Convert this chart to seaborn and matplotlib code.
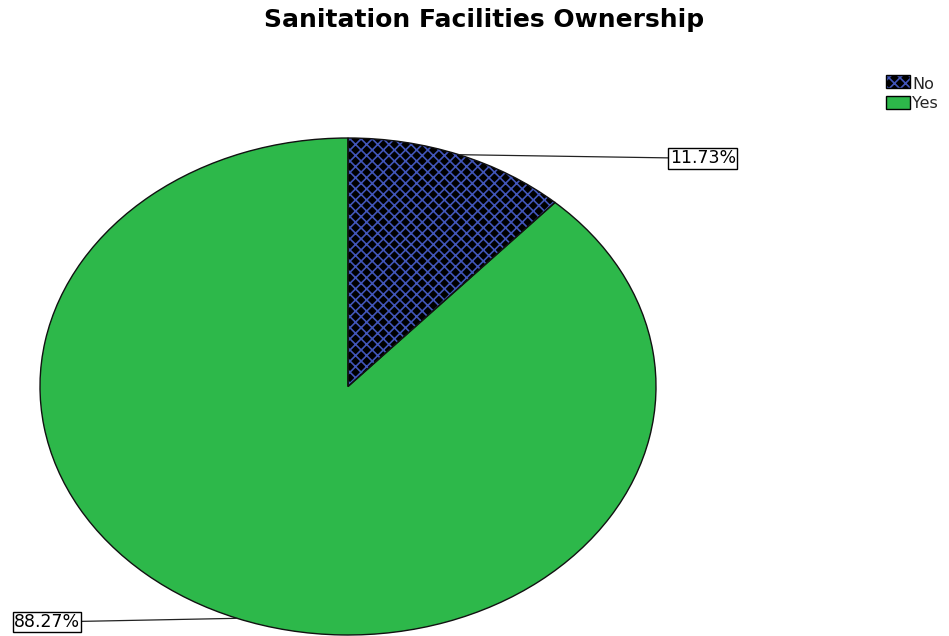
import matplotlib
matplotlib.use("Agg")
import matplotlib.pyplot as plt
from matplotlib.patches import Patch, Rectangle
import numpy as np
import seaborn as sns

# Data
categories = ["No", "Yes"]
percentages = [11.73, 88.27]
label_texts = ["11.73%", "88.27%"]
title = "Sanitation Facilities Ownership"

sns.set_theme(style="white")
plt.rcParams["font.family"] = ["DejaVu Sans"]
plt.rcParams["hatch.linewidth"] = 1.2

GREEN = "#2db84a"
HATCH_BLUE = "#4155b8"
HATCH = "xxx"

W, H = 949, 636
fig = plt.figure(figsize=(W / 100, H / 100), dpi=100)
fig.patch.set_facecolor("white")

# Axes spanning the (stretched, elliptical) pie
left, top, right, bottom = 40, 138, 656, 635
ax = fig.add_axes([left / W, 1 - bottom / H, (right - left) / W, (bottom - top) / H])

wedges, _ = ax.pie(percentages, colors=["black", GREEN], startangle=90,
                   counterclock=False, radius=1,
                   wedgeprops=dict(linewidth=0))
wedges[0].set_hatch(HATCH)
wedges[0].set_edgecolor(HATCH_BLUE)

# Black outline on top of the fills
outlines, _ = ax.pie(percentages, startangle=90, counterclock=False, radius=1,
                     wedgeprops=dict(linewidth=1.0, edgecolor="#111111", fill=False))

ax.set_aspect("auto")
ax.set_xlim(-1, 1)
ax.set_ylim(-1, 1)
ax.axis("off")

# Percentage labels with leader lines from each wedge's mid-angle
label_x = [1.045, -0.87]
for w, txt, lx in zip(wedges, label_texts, label_x):
    mid = np.deg2rad((w.theta1 + w.theta2) / 2)
    cx, cy = np.cos(mid), np.sin(mid)
    ax.annotate(txt, xy=(cx, cy), xytext=(lx, cy - 0.015),
                ha="left" if lx > 0 else "right", va="center",
                fontsize=12.5, color="black", annotation_clip=False,
                bbox=dict(boxstyle="square,pad=0.08", fc="white", ec="black", lw=1.0),
                arrowprops=dict(arrowstyle="-", color="#222222", lw=0.9,
                                shrinkA=0, shrinkB=0))


class HatchedBoxHandler:
    """Legend key: hatched fill with a separate black border."""

    def legend_artist(self, legend, orig_handle, fontsize, handlebox):
        x0, y0 = handlebox.xdescent, handlebox.ydescent
        w, h = handlebox.width, handlebox.height
        tr = handlebox.get_transform()
        fill = Rectangle((x0, y0), w, h, facecolor="black", edgecolor=HATCH_BLUE,
                         hatch="xxx", linewidth=0, transform=tr)
        border = Rectangle((x0, y0), w, h, facecolor="none", edgecolor="black",
                           linewidth=1.0, transform=tr)
        handlebox.add_artist(fill)
        handlebox.add_artist(border)
        return fill


no_handle = Patch(facecolor="black", edgecolor=HATCH_BLUE, hatch=HATCH)
yes_handle = Patch(facecolor=GREEN, edgecolor="black", linewidth=1.0)
fig.legend([no_handle, yes_handle], categories,
           handler_map={no_handle: HatchedBoxHandler()},
           loc="upper left", bbox_to_anchor=(886 / W, 1 - 77 / H),
           frameon=False, fontsize=11.5, handlelength=1.5, handleheight=0.85,
           handletextpad=0.15, labelspacing=0.25, borderpad=0, borderaxespad=0)

fig.text(484 / W, 1 - 20 / H, title, ha="center", va="center",
         fontsize=18, fontweight="bold", color="black")

fig.savefig("out.png", dpi=100, facecolor="white")
